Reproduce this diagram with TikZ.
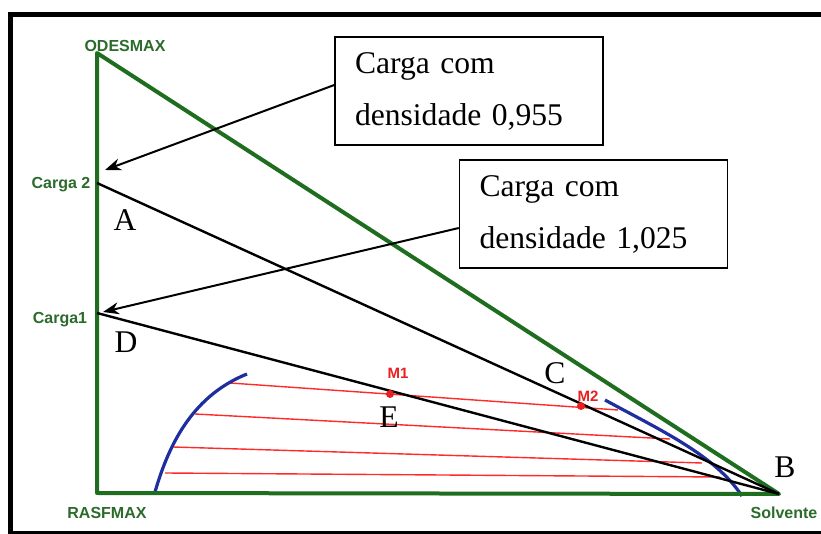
\documentclass[tikz,border=0pt]{standalone}
\usepackage{fontspec}
\setmainfont{Liberation Serif}
\setsansfont{Liberation Sans}
\usetikzlibrary{calc,arrows.meta,positioning}
\definecolor{trig}{HTML}{1F6E1F}
\definecolor{labg}{HTML}{2B6B2B}
\definecolor{tiec}{HTML}{FF2B2B}
\definecolor{binc}{HTML}{1E2E9E}
\definecolor{ptc}{HTML}{E82020}
\tikzset{
  ar/.style={-{Stealth[length=8pt,width=6pt]},line width=1pt},
  box/.style={draw,line width=0.7pt,align=left,text width=114pt,inner xsep=10pt,minimum height=54pt,font=\fontsize{15.8}{26}\selectfont},
  glab/.style={font=\fontsize{8}{9}\selectfont\sffamily\bfseries,text=labg,inner sep=0pt},
  ltr/.style={font=\fontsize{15.8}{18}\selectfont,inner sep=0pt},
  mlab/.style={font=\fontsize{7.5}{8}\selectfont\sffamily\bfseries,text=ptc,inner sep=0pt},
  tri/.style={trig,line width=2pt,line join=round},
  feed/.style={black,line width=1.2pt},
  tieln/.style={tiec,line width=0.7pt},
  bin/.style={binc,line width=1.6pt}
}
\begin{document}
\begin{tikzpicture}[x=0.5pt,y=-0.5pt]
\fill[white] (0,0) rectangle (821,534);
\useasboundingbox (0,0) rectangle (821,534);
% frame
\draw[line width=2.65pt] (8,14.7) -- (821,14.7);
\draw[line width=2.65pt] (10.7,12) -- (10.7,534);
\draw[line width=1.5pt] (8,532.5) -- (821,532.5);
% triangle corners and feeds
\coordinate (odes) at (97,53);
\coordinate (rasf) at (97,493);
\coordinate (solv) at (779,494);
\coordinate (c2) at (97,183);
\coordinate (c1) at (97,313);
\coordinate (m1) at (390,394);
\coordinate (m2) at (581,406);
\coordinate (tip1) at (105,170);
\coordinate (tip2) at (103,312);
% tie lines
\foreach \xa/\ya/\xb/\yb in {230/383/618/410,195/414/670/439,173/447/702/463,165/473/720/477}
  \draw[tieln] (\xa,\ya) -- (\xb,\yb);
% binodal
\draw[bin] (155,492) .. controls (170,440) and (195,395) .. (247,374);
\draw[bin] (605,400) .. controls (660,430) and (715,455) .. (742,496);
\draw[tri] (odes) -- (rasf) -- (solv) -- cycle;
\draw[feed] (c2) -- (solv);
\draw[feed] (c1) -- (solv);
\fill[ptc] (m1) circle (2pt);
\fill[ptc] (m2) circle (2pt);
% labels
\node[glab] (lodes) at (125,46) {ODESMAX};
\node[glab] (lc2) at (61,185) {Carga 2};
\node[glab] (lc1) at (60,320) {Carga1};
\node[glab] (lrasf) at (107,513) {RASFMAX};
\node[glab] (lsolv) at (784,513) {Solvente};
\node[ltr] (la) at (125,220) {A};
\node[ltr] (ld) at (126,342) {D};
\node[ltr] (lcc) at (555,373) {C};
\node[ltr] (le) at (389,417) {E};
\node[ltr] (lb) at (785,467) {B};
\node[mlab] (lm1) at (398,373) {M1};
\node[mlab] (lm2) at (588,396) {M2};
% boxes
\node[box] (box1) at (469,91) {Carga com\\densidade 0,955};
\node[box] (box2) at (593.5,214) {Carga com\\densidade 1,025};
\draw[ar] ([yshift=3pt]box1.west) -- (tip1);
\draw[ar] ([yshift=-7pt]box2.west) -- (tip2);
\end{tikzpicture}
\end{document}
